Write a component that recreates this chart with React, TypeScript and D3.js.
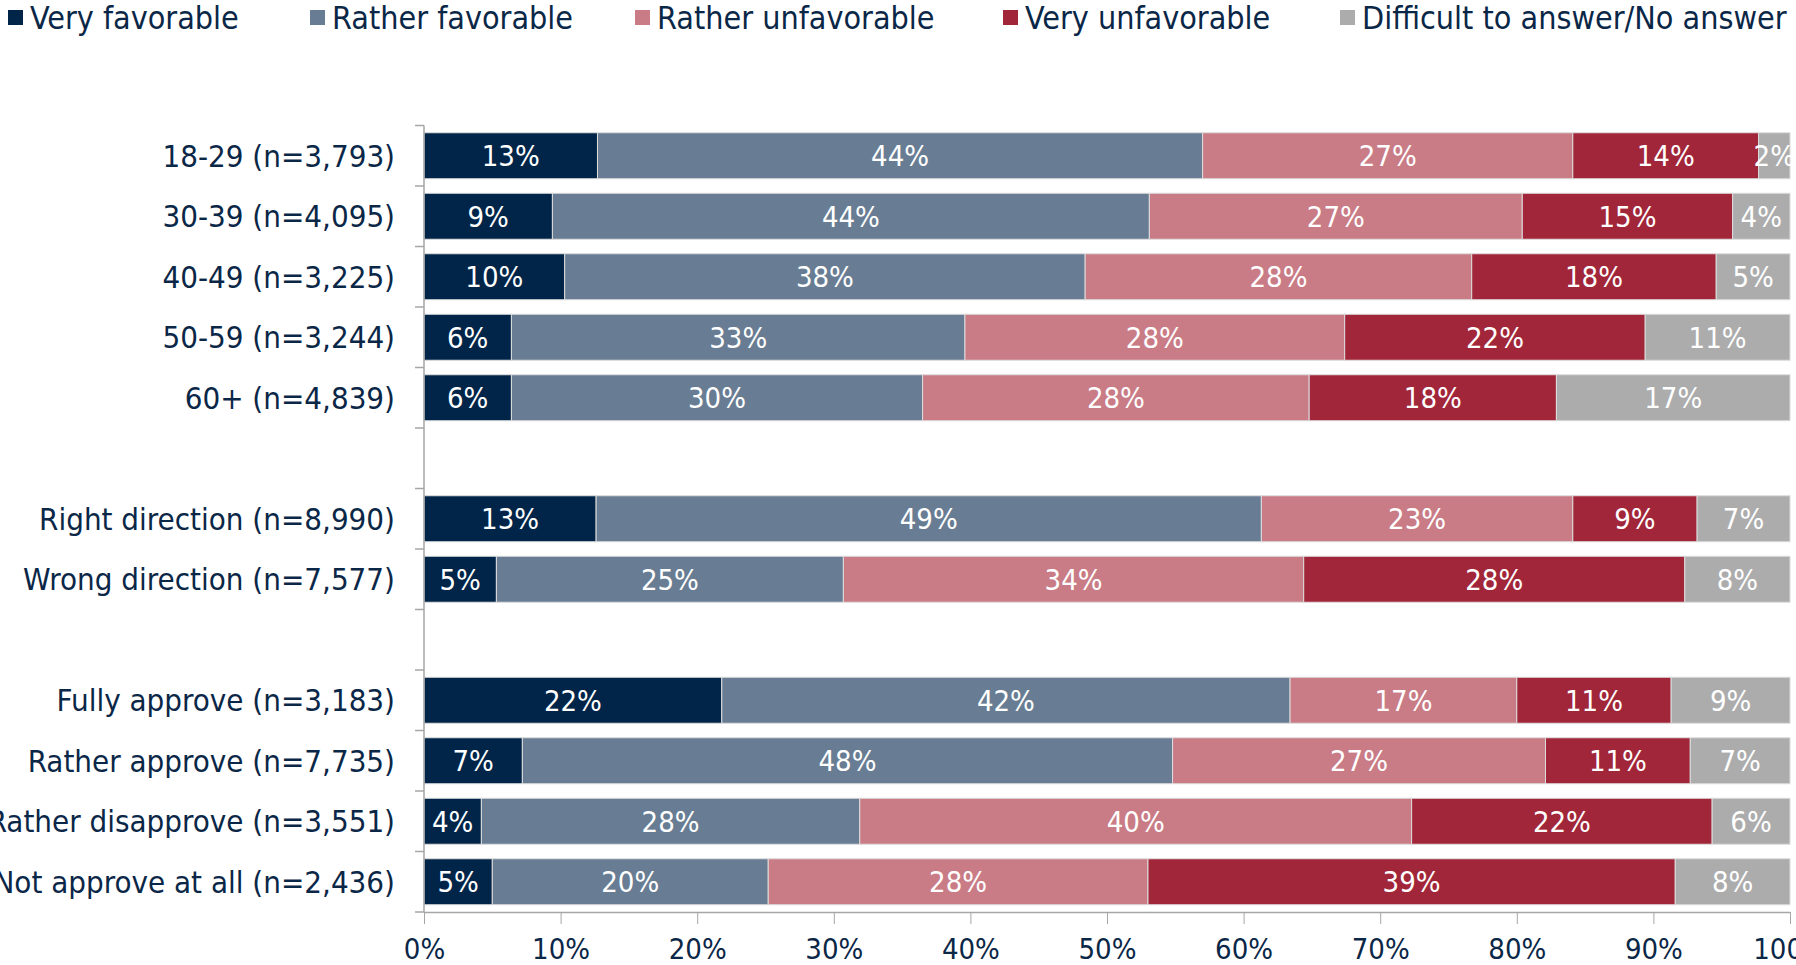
import { useEffect, useRef } from "react";
import * as d3 from "d3";

// rows, top to bottom; null marks an empty spacer row
const categories: (string | null)[] = [
  "18-29 (n=3,793)",
  "30-39 (n=4,095)",
  "40-49 (n=3,225)",
  "50-59 (n=3,244)",
  "60+ (n=4,839)",
  null,
  "Right direction (n=8,990)",
  "Wrong direction (n=7,577)",
  null,
  "Fully approve (n=3,183)",
  "Rather approve (n=7,735)",
  "Rather disapprove (n=3,551)",
  "Not approve at all (n=2,436)",
];

const seriesNames = [
  "Very favorable",
  "Rather favorable",
  "Rather unfavorable",
  "Very unfavorable",
  "Difficult to answer/No answer",
];

// percentages, one entry per row
const veryFavorable = [12.7, 9.4, 10.3, 6.4, 6.4, 0, 12.6, 5.3, 0, 21.8, 7.2, 4.2, 5.0];
const ratherFavorable = [44.3, 43.7, 38.1, 33.2, 30.1, 0, 48.7, 25.4, 0, 41.6, 47.6, 27.7, 20.2];
const ratherUnfavorable = [27.1, 27.3, 28.3, 27.8, 28.3, 0, 22.8, 33.7, 0, 16.6, 27.3, 40.4, 27.8];
const veryUnfavorable = [13.6, 15.4, 17.9, 22.0, 18.1, 0, 9.1, 27.9, 0, 11.3, 10.6, 22.0, 38.6];
const noAnswer = [2.3, 4.2, 5.4, 10.6, 17.1, 0, 6.8, 7.7, 0, 8.7, 7.3, 5.7, 8.4];

const xTicks = [0, 10, 20, 30, 40, 50, 60, 70, 80, 90, 100];

const colors = ["#002549", "#687d93", "#c97c86", "#a22639", "#acacad"];
const textColor = "#0b2747";
const axisColor = "#a6a6a6";
const font = "'DejaVu Sans Condensed', 'DejaVu Sans', sans-serif";

const width = 1796;
const height = 965;

export default function App() {
  const xAxisRef = useRef<SVGGElement>(null);

  const rows = categories.map((c, i) => ({
    key: String(i),
    label: c,
    [seriesNames[0]]: veryFavorable[i],
    [seriesNames[1]]: ratherFavorable[i],
    [seriesNames[2]]: ratherUnfavorable[i],
    [seriesNames[3]]: veryUnfavorable[i],
    [seriesNames[4]]: noAnswer[i],
  }));

  const stacked = d3.stack<any>().keys(seriesNames)(rows);

  const x = d3.scaleLinear().domain([0, 100]).range([424, 1790]);
  const y = d3
    .scaleBand()
    .domain(rows.map((r) => r.key))
    .range([125.5, 912])
    .paddingInner(0.24)
    .paddingOuter(0.12);

  const step = y.step();
  const boundaries = d3.range(categories.length + 1).map((i) => 125.5 + i * step);

  useEffect(() => {
    const g = d3.select(xAxisRef.current);
    g.selectAll("*").remove();
    g.call(
      d3
        .axisBottom(x)
        .tickValues(xTicks)
        .tickFormat((d) => `${d}%`)
        .tickSize(12)
        .tickSizeOuter(0)
        .tickPadding(14),
    );
    g.select(".domain").attr("stroke", axisColor).attr("stroke-width", 1.5);
    g.selectAll(".tick line").attr("stroke", axisColor);
    g.selectAll(".tick text")
      .attr("fill", textColor)
      .attr("font-size", 29)
      .attr("font-family", font);
  }, []);

  // legend x positions
  const legendX = [8, 310, 635, 1003, 1340];

  return (
    <svg
      width={width}
      height={height}
      style={{ position: "absolute", left: 0, top: 0, display: "block" }}
      fontFamily={font}
    >
      <rect width={width} height={height} fill="#ffffff" />

      {/* legend */}
      {seriesNames.map((s, i) => (
        <g key={s} transform={`translate(${legendX[i]},18)`}>
          <rect x={0} y={-8} width={15} height={15} fill={colors[i]} />
          <text x={22} y={0} dy="0.35em" fontSize={32} fill={textColor}>
            {s}
          </text>
        </g>
      ))}

      {/* bars */}
      {stacked.map((layer, si) => (
        <g key={layer.key}>
          {layer.map((d, i) =>
            categories[i] === null ? null : (
              <rect
                key={i}
                x={x(d[0])}
                y={y(String(i))}
                width={x(d[1]) - x(d[0])}
                height={y.bandwidth()}
                fill={colors[si]}
                stroke="#dcdcdc"
                strokeWidth={1}
              />
            ),
          )}
        </g>
      ))}

      {/* value labels */}
      {stacked.map((layer) => (
        <g key={layer.key + "-lbl"}>
          {layer.map((d, i) =>
            categories[i] === null ? null : (
              <text
                key={i}
                x={(x(d[0]) + x(d[1])) / 2}
                y={(y(String(i)) ?? 0) + y.bandwidth() / 2}
                dy="0.36em"
                textAnchor="middle"
                fontSize={29}
                fill="#ffffff"
              >
                {Math.round(d[1] - d[0])}%
              </text>
            ),
          )}
        </g>
      ))}

      {/* y axis */}
      <line x1={x(0)} x2={x(0)} y1={boundaries[0]} y2={912} stroke={axisColor} strokeWidth={1.5} />
      {boundaries.map((b, i) => (
        <line key={i} x1={x(0) - 9} x2={x(0)} y1={b} y2={b} stroke={axisColor} strokeWidth={1.5} />
      ))}
      {categories.map((c, i) =>
        c === null ? null : (
          <text
            key={i}
            x={395}
            y={(y(String(i)) ?? 0) + y.bandwidth() / 2}
            dy="0.36em"
            textAnchor="end"
            fontSize={31}
            fill={textColor}
          >
            {c}
          </text>
        ),
      )}

      {/* x axis */}
      <g ref={xAxisRef} transform="translate(0,912)" />
    </svg>
  );
}
